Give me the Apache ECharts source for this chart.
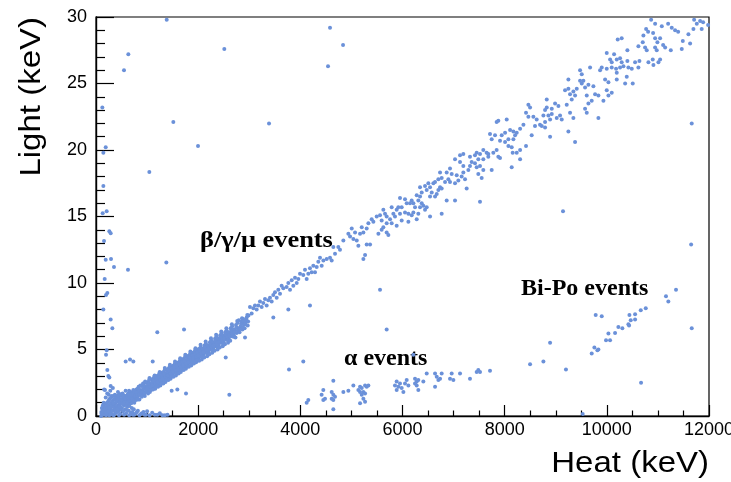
<!DOCTYPE html>
<html><head><meta charset="utf-8">
<script src="https://cdn.jsdelivr.net/npm/echarts@6/dist/echarts.min.js"></script>
<style>html,body{margin:0;padding:0;background:#fff}#c{width:731px;height:482px}</style>
</head><body><div id="c"></div>
<script>
const xTicks = [0, 2000, 4000, 6000, 8000, 10000, 12000];
const yTicks = [0, 5, 10, 15, 20, 25, 30];
const xTitle = 'Heat (keV)';
const yTitle = 'Light (keV)';
const labelBeta = 'β/γ/μ events';
const labelAlpha = 'α events';
const labelBiPo = 'Bi-Po events';

// points near the origin
const lowBlob = [[120,0.1],[150,0.3],[170,0.6],[180,0.15],[200,0.9],[210,0.4],[230,0.2],[240,1.1],[250,0.7],[260,0.05],[270,1.3],[280,0.5],[290,0.25],[300,0.95],[310,1.5],[320,0.1],[330,0.7],[340,1.2],[350,0.4],[360,0.85],[370,1.6],[380,0.2],[390,1.0],[400,0.55],[410,1.35],[420,0.3],[430,1.8],[440,0.8],[450,1.1],[460,0.45],[470,1.5],[480,0.15],[490,0.95],[500,1.25],[510,0.6],[520,1.7],[530,0.35],[540,1.05],[550,0.8],[560,1.4],[570,0.5],[580,1.9],[590,0.2],[600,1.15],[610,0.7],[620,1.6],[640,0.4],[660,0.95],[680,0.25],[700,0.6],[720,0.1],[150,1.0],[130,0.5],[190,1.4],[220,1.7],[160,2.0],[110,0.2],[135,0.8],[280,1.9],[330,2.1],[250,1.6],[200,0.05],[100,0.0],[350,0.05],[450,0.05],[550,0.1],[650,0.05],[750,0.1],[850,0.05],[950,0.1],[1050,0.05],[800,0.3],[900,0.2],[1000,0.35],[1150,0.1],[1300,0.05],[1400,0.1],
[105,0.3],[115,0.6],[125,0.15],[140,0.4],[145,0.7],[155,0.1],[165,0.45],[175,0.9],[185,0.3],[195,0.65],[205,0.2],[215,1.0],[225,0.55],[235,0.8],[245,0.35],[255,1.2],[265,0.6],[275,0.9],[285,0.15],[295,1.4],[305,0.7],[315,1.1],[325,0.4],[335,0.95],[345,1.5],[355,0.65],[365,1.25],[375,0.45],[385,1.45],[395,0.75],[405,1.1],[415,0.6],[425,1.55],[435,0.35],[445,1.3],[455,0.75],[465,1.65],[475,1.0],[485,0.55],[495,1.5],[505,0.95],[525,1.2],[545,1.55],[565,1.05],[585,1.5],[605,0.45],[625,0.85],[645,1.25],[690,0.95],[710,0.3],[740,0.5],[780,0.2],[820,0.4],[880,0.15],[930,0.3],[980,0.1],[1100,0.25],[1200,0.1],[1250,0.2],[1350,0.05]];

// dense beta/gamma/muon band, 600 - 3000 keV
const bandDense = [[600,0.9],[605,1.2],[615,1.5],[625,1.05],[630,1.7],[640,1.35],[650,0.75],[655,1.55],[665,1.15],[680,1.8],
[700,1.1],[705,1.45],[715,1.75],[720,1.3],[730,1.95],[745,1.55],[750,1.0],[760,1.7],[775,1.4],[790,2.0],
[800,1.35],[810,1.7],[815,2.05],[825,1.5],[835,2.2],[845,1.85],[850,1.25],[865,1.95],[875,1.6],[890,2.25],
[900,1.6],[905,1.95],[915,2.3],[925,1.75],[935,2.45],[945,2.1],[955,1.5],[965,2.2],[975,1.85],[990,2.5],
[1000,1.85],[1010,2.2],[1020,2.55],[1030,2.0],[1040,2.7],[1050,2.35],[1055,1.8],[1070,2.45],[1080,2.1],[1095,2.75],
[1100,2.1],[1110,2.45],[1120,2.8],[1125,2.25],[1140,2.95],[1150,2.6],[1160,2.05],[1170,2.7],[1180,2.35],[1195,3.0],
[1200,2.35],[1210,2.7],[1220,3.05],[1230,2.5],[1240,3.2],[1250,2.85],[1260,2.3],[1270,2.95],[1285,2.6],[1295,3.25],
[1300,2.6],[1310,2.95],[1320,3.3],[1330,2.75],[1345,3.45],[1350,3.1],[1360,2.55],[1375,3.2],[1385,2.85],[1395,3.5],
[1400,2.85],[1410,3.2],[1420,3.55],[1435,3.0],[1440,3.7],[1455,3.35],[1460,2.8],[1470,3.45],[1485,3.1],[1495,3.75],
[1500,3.1],[1510,3.45],[1520,3.8],[1535,3.25],[1545,3.95],[1550,3.6],[1565,3.05],[1575,3.7],[1580,3.35],[1595,4.0],
[1600,3.35],[1610,3.7],[1625,4.05],[1630,3.5],[1645,4.2],[1650,3.85],[1660,3.3],[1675,3.95],[1685,3.6],[1695,4.25],
[1700,3.6],[1710,3.95],[1720,4.3],[1730,3.75],[1745,4.45],[1755,4.1],[1760,3.55],[1770,4.2],[1785,3.85],[1795,4.5],
[1800,3.85],[1815,4.2],[1820,4.55],[1830,4.0],[1845,4.7],[1850,4.35],[1865,3.8],[1870,4.45],[1885,4.1],[1895,4.75],
[1900,4.1],[1910,4.45],[1925,4.8],[1930,4.25],[1940,4.95],[1955,4.6],[1960,4.05],[1975,4.7],[1985,4.35],[1995,5.0],
[2000,4.3],[2015,4.7],[2025,5.05],[2035,4.5],[2050,5.2],[2060,4.85],[2070,4.25],[2085,4.95],[2095,4.6],
[2100,4.55],[2115,4.95],[2125,5.3],[2140,4.75],[2150,5.45],[2165,5.1],[2175,4.5],[2185,5.2],[2195,4.85],
[2200,4.8],[2215,5.2],[2230,5.55],[2240,5.0],[2255,5.7],[2265,5.35],[2275,4.75],[2290,5.45],
[2300,5.05],[2315,5.45],[2330,5.8],[2340,5.25],[2355,5.95],[2365,5.6],[2380,5.0],[2390,5.7],
[2400,5.3],[2415,5.7],[2430,6.05],[2440,5.5],[2455,6.2],[2465,5.85],[2480,5.25],[2490,5.95],
[2500,5.55],[2515,5.95],[2530,6.3],[2540,5.75],[2555,6.45],[2570,6.1],[2585,5.5],[2595,6.2],
[2600,5.8],[2620,6.2],[2635,6.6],[2650,6.0],[2665,6.75],[2680,6.35],[2695,6.5],
[2700,6.05],[2720,6.45],[2740,6.85],[2755,6.25],[2770,7.0],[2785,6.6],[2795,7.2],
[2810,6.3],[2830,6.75],[2850,7.1],[2865,6.5],[2880,7.3],[2895,6.9],
[2910,6.6],[2930,7.05],[2950,7.4],[2970,6.8],[2985,7.55]];

// more points of the dense band
const bandDense2 = [[420,0.5],[455,1.0],[470,0.7],[495,1.2],[515,0.9],[535,1.45],[560,1.0],[575,1.3],[590,0.85],
[608,1.0],[622,1.35],[647,1.9],[662,1.45],[688,1.25],[694,1.6],
[708,1.25],[727,1.65],[739,1.15],[752,1.85],[768,1.5],[783,1.2],[796,1.75],
[806,1.55],[822,1.25],[838,1.95],[853,1.65],[869,2.3],[884,1.8],[897,1.45],
[908,1.8],[921,2.45],[933,2.05],[948,1.7],[962,2.6],[979,2.0],[994,2.25],
[1006,2.05],[1019,1.7],[1034,2.45],[1047,2.85],[1063,2.2],[1077,1.95],[1092,2.5],
[1104,2.3],[1117,2.0],[1133,2.65],[1148,3.05],[1163,2.45],[1176,2.2],[1191,2.8],
[1203,2.55],[1216,2.2],[1232,2.9],[1247,3.3],[1262,2.7],[1276,2.45],[1291,3.05],
[1304,2.8],[1318,2.45],[1333,3.15],[1347,3.6],[1363,2.95],[1377,2.7],[1392,3.3],
[1404,3.05],[1417,2.7],[1432,3.4],[1448,3.85],[1462,3.2],[1476,2.95],[1491,3.55],
[1503,3.3],[1517,2.95],[1531,3.65],[1547,4.1],[1561,3.45],[1577,3.2],[1591,3.8],
[1604,3.55],[1618,3.2],[1633,3.9],[1648,4.35],[1662,3.7],[1677,3.45],[1692,4.05],
[1703,3.8],[1717,3.45],[1733,4.15],[1748,4.6],[1763,3.95],[1777,3.7],[1791,4.3],
[1804,4.05],[1818,3.7],[1834,4.4],[1848,4.85],[1862,4.2],[1877,3.95],[1892,4.55],
[1903,4.3],[1917,3.95],[1933,4.65],[1947,5.1],[1963,4.45],[1977,4.2],[1991,4.8],
[2004,4.55],[2019,4.15],[2033,4.9],[2047,5.35],[2063,4.7],[2078,4.45],[2092,5.05],
[2104,4.8],[2119,4.4],[2133,5.15],[2147,5.6],[2163,4.95],[2178,4.7],[2192,5.3],
[2204,5.05],[2221,4.65],[2236,5.4],[2251,5.85],[2268,5.2],[2283,4.95],[2296,5.55],
[2306,5.3],[2322,4.9],[2337,5.65],[2352,6.1],[2368,5.45],[2384,5.2],[2397,5.8],
[2408,5.55],[2423,5.15],[2437,5.9],[2452,6.35],[2470,5.7],[2485,5.45],[2498,6.05],
[2508,5.8],[2524,5.4],[2538,6.15],[2552,6.6],[2566,5.95],[2580,5.7],[2598,6.3],
[2610,6.05],[2628,5.65],[2645,6.4],[2660,6.9],[2675,6.2],[2690,5.95],
[2712,6.3],[2730,5.9],[2748,6.65],[2765,7.15],[2780,6.45],
[2818,6.55],[2840,6.95],[2858,7.35],[2875,6.7],[2890,7.1],
[2920,6.9],[2940,7.25],[2962,7.6],[2978,7.1]];

// band 3000 - 5600 keV
const bandMid = [[3014,8.2],[3047,7.7],[3080,8.1],[3112,8.3],[3145,8.0],[3177,8.3],[3210,8.6],[3243,8.2],[3275,8.5],[3308,8.8],[3341,8.3],[3373,8.7],[3406,8.9],[3439,8.6],[3471,9.1],[3504,9.3],[3537,8.9],[3569,9.5],[3602,9.2],[3634,9.8],[3667,9.6],[3732,9.7],[3765,10.0],[3798,9.5],[3831,10.2],[3863,9.8],[3896,10.4],[3929,10.0],[3961,10.3],[3994,10.7],[4058,10.6],[4091,11.0],[4124,10.3],[4156,10.7],[4189,11.1],[4222,10.8],[4254,11.3],[4287,10.8],[4320,11.2],[4352,11.6],[4385,11.9],[4418,11.3],[4451,11.7],[4516,11.8],[4581,11.9],[4614,11.7],[4646,12.7],[4679,12.2],[4744,12.7],[4776,12.5],[4842,13.2],[4940,13.7],[4973,13.5],[5006,14.1],[5038,13.3],[5071,13.8],[5104,13.2],[5136,12.8],[5169,13.7],[5202,14.2],[5234,13.8],[5267,12.1],[5234,11.8],[5299,14.1],[5299,12.9],[5332,14.5],[5365,12.9],[5397,14.8],[5430,14.6],[5495,15.0],[5528,13.7],[5560,15.1]];

// band 5600 - 8700 keV
const bandUpper = [[8464,23.4],[8497,23.2],[8418,22.8],[8464,22.5],[8562,22.5],[8627,22.3],[8594,21.8],[8692,21.9],[8529,21.1],[8367,21.9],[8302,21.6],[8236,21.3],[8204,21.1],[8073,20.8],[8171,20.8],[8040,22.3],[7876,22.2],[7843,22.1],[8008,21.3],[8106,21.5],[8171,21.4],[8008,20.6],[8073,20.3],[8138,20.2],[8236,19.8],[8157,19.8],[8302,20.0],[8418,20.3],[8138,18.7],[8302,19.3],[7713,21.2],[7811,21.1],[7746,20.8],[7909,20.7],[7942,21.1],[7843,20.0],[7876,19.5],[7909,19.4],[7778,19.8],[7680,19.7],[7582,20.0],[7647,19.8],[7517,19.7],[7452,19.8],[7419,19.6],[7484,19.3],[7582,19.3],[7680,19.5],[7321,19.5],[7354,19.1],[7419,19.0],[7321,18.8],[7452,18.7],[7517,18.8],[7582,18.5],[7484,18.2],[7550,17.9],[7746,18.5],[7289,18.5],[7191,19.7],[7126,19.6],[7028,19.3],[7126,19.1],[7191,18.8],[7191,18.3],[7158,18.0],[7061,18.1],[7093,17.7],[7028,17.5],[7224,17.8],[7256,17.1],[6930,18.6],[6865,18.3],[6963,18.2],[6898,17.8],[6735,18.3],[6767,17.9],[6833,17.6],[6930,17.6],[6702,17.8],[6637,17.6],[6604,17.5],[6735,17.2],[6702,17.0],[6767,17.1],[6506,17.5],[6539,17.2],[6441,17.3],[6343,17.2],[6376,16.8],[6474,17.0],[6572,16.8],[6539,16.5],[6637,16.5],[6670,16.7],[6865,16.2],[7028,16.2],[7517,16.1],[6343,16.5],[6278,16.6],[6310,16.2],[6376,16.0],[6180,16.2],[6213,16.0],[6147,16.0],[6245,15.7],[6343,15.7],[6408,15.8],[6474,15.7],[6441,15.5],[6539,15.0],[6049,16.3],[5951,16.4],[6082,16.0],[5984,15.7],[5918,15.7],[5886,15.5],[5951,15.2],[6049,15.3],[6115,15.2],[6213,15.3],[6180,15.1],[6310,15.2],[6278,14.8],[5821,15.2],[5853,15.0],[5788,15.7],[5625,15.5],[5658,15.2],[5690,15.0],[5756,14.8],[5592,14.7],[5690,14.5],[5788,14.5],[5886,14.3],[5984,14.7],[5625,14.2],[5592,14.0],[5690,13.8],[5723,13.6],[6115,14.6],[6767,15.2]];

// band 8700 - 12000 keV
const bandTop = [[10867,29.8],[10945,29.5],[11076,29.3],[11200,29.5],[11271,29.2],[11336,29.0],[11396,28.9],[11709,29.8],[11826,29.7],[11885,29.6],[11983,29.4],[11761,29.5],[11857,29.1],[11695,29.1],[11597,28.7],[10769,29.1],[10808,28.9],[10906,28.8],[11043,28.4],[10945,28.4],[10990,28.1],[11102,27.9],[11141,27.7],[11252,27.5],[11487,28.2],[11467,27.6],[11630,28.0],[10716,28.6],[10703,28.1],[10749,27.7],[10618,27.8],[10781,27.5],[10945,27.7],[10977,27.5],[10213,28.3],[10291,28.4],[10402,27.5],[9998,27.3],[10142,27.2],[10064,26.8],[10194,26.8],[10259,26.9],[10291,26.6],[10402,26.7],[10096,26.6],[9900,26.2],[9998,26.1],[10096,26.2],[10181,26.1],[10259,26.2],[10325,26.3],[10422,26.2],[10488,26.1],[10553,26.6],[10638,26.7],[10618,26.2],[10814,26.6],[10899,26.8],[10912,26.4],[11010,26.6],[11043,26.8],[9672,26.2],[9868,26.0],[10194,25.3],[10390,25.5],[10358,25.0],[10507,25.0],[9966,25.3],[10031,25.1],[9998,24.5],[10096,24.3],[10031,24.1],[9933,23.7],[10194,25.8],[9476,26.0],[9509,25.7],[9247,25.3],[9476,25.2],[9541,25.2],[9509,25.0],[9639,24.9],[9737,24.8],[9574,24.7],[9411,24.6],[9182,24.5],[9247,24.6],[9345,24.4],[9280,24.2],[9378,24.1],[9607,24.1],[9770,24.2],[9835,24.1],[9704,23.7],[9639,23.5],[9574,23.1],[9607,22.8],[9313,23.8],[9215,23.4],[8987,23.5],[9052,23.3],[8824,23.8],[8824,23.2],[8791,23.0],[8922,23.1],[8758,22.6],[8856,22.6],[8922,22.7],[9019,22.4],[9084,22.6],[9117,22.3],[8889,22.3],[8791,22.1],[8726,21.8],[8791,21.7],[9280,22.8],[9345,22.4],[9247,21.4],[9835,22.4],[8889,21.0],[9378,20.6]];

// alpha events
const alphaPts = [[4156,1.2],[4124,1.0],[4450,1.95],[4417,1.6],[4483,1.3],[4450,1.2],[4614,1.8],[4646,1.6],[4679,1.45],[4614,1.3],[4646,1.2],[4646,2.65],[4646,0.5],[4842,1.8],[4940,1.9],[5038,2.3],[5169,2.2],[5202,2.1],[5267,2.3],[5299,2.2],[5332,2.3],[5169,1.8],[5234,1.8],[5202,1.6],[5267,1.7],[5234,1.3],[5169,0.95],[5267,1.07],[5136,1.95],[5886,2.6],[5853,2.3],[5918,2.2],[5951,2.45],[5984,2.1],[6049,2.45],[6082,2.7],[5886,1.95],[6017,1.8],[6115,2.3],[6245,2.8],[6278,2.6],[6310,2.7],[6245,2.45],[6278,2.3],[6310,1.95],[6408,2.6],[6474,3.2],[6637,3.2],[6670,2.95],[6702,2.7],[6637,2.2],[6767,3.2],[6735,2.8],[6963,3.2],[6930,2.8],[6996,2.7],[7126,3.2],[7321,2.8],[7452,3.3],[7484,3.45],[7517,3.3],[7713,3.4],[8497,3.9],[8758,4.1]];

// Bi-Po events
const biPoPts = [[11158,9.0],[11204,8.6],[11354,9.5],[9782,7.6],[9900,7.5],[9704,4.7],[9756,5.15],[9815,4.95],[9835,5.0],[9984,5.7],[10063,5.7],[10031,6.2],[10161,6.25],[10226,6.7],[10304,6.6],[10422,6.9],[10435,6.8],[10468,7.2],[10553,7.25],[10442,7.6],[10553,7.65],[10664,7.95],[10762,8.1]];

// scattered events
const strays = [[1384,29.8],[2512,27.6],[633,27.2],[548,26.0],[124,23.2],[1514,22.1],[1997,20.3],[190,20.2],[144,19.8],[4581,29.2],[4542,26.3],[4836,27.9],[3387,22.0],[1044,18.35],[144,17.3],[131,15.25],[209,15.4],[261,13.9],[287,13.75],[157,13.15],[190,11.75],[294,11.8],[352,11.2],[626,11.0],[1377,11.55],[170,10.3],[222,9.25],[196,9.1],[144,8.0],[287,7.25],[320,6.6],[209,4.95],[196,4.6],[222,3.45],[241,3.0],[261,2.9],[176,1.95],[287,2.25],[581,4.1],[666,4.25],[731,4.1],[1110,4.1],[1200,6.3],[1723,6.5],[1481,1.9],[1592,2.0],[1762,1.7],[2539,4.4],[2610,1.6],[2917,5.9],[3778,3.5],[3765,8.0],[3471,7.4],[4189,8.3],[5560,9.5],[5690,6.5],[4058,4.1],[6213,4.6],[8889,5.5],[9142,15.4],[11650,12.9],[11662,22.0],[11662,6.6],[9200,3.5],[10670,2.5],[9527,0.15]];

const allPoints = [].concat(lowBlob, bandDense, bandDense2, bandMid, bandUpper, bandTop, alphaPts, biPoPts, strays);

const chart = echarts.init(document.getElementById('c'), null, {renderer: 'canvas'});
const axisFont = {fontFamily: 'Liberation Sans', fontSize: 18, color: '#000'};
chart.setOption({
  animation: false,
  backgroundColor: '#fff',
  grid: {left: 96, right: 22, top: 17, bottom: 66, outerBoundsMode: 'none', containLabel: false, show: true, borderColor: '#000', borderWidth: 1.2, backgroundColor: 'transparent'},
  xAxis: {
    type: 'value', min: xTicks[0], max: xTicks[xTicks.length - 1], interval: 2000,
    axisLine: {show: true, lineStyle: {color: '#000', width: 1.4}},
    axisTick: {show: true, inside: true, length: 11, lineStyle: {color: '#000', width: 1.2}},
    minorTick: {show: true, splitNumber: 4, length: 5.5, lineStyle: {color: '#000', width: 1.2}},
    splitLine: {show: false},
    axisLabel: Object.assign({margin: 5, showMaxLabel: true, showMinLabel: true, formatter: v => String(v)}, axisFont)
  },
  yAxis: {
    type: 'value', min: yTicks[0], max: yTicks[yTicks.length - 1], interval: 5,
    axisLine: {show: true, lineStyle: {color: '#000', width: 1.4}},
    axisTick: {show: true, inside: true, length: 18, lineStyle: {color: '#000', width: 1.2}},
    minorTick: {show: true, splitNumber: 5, length: 9, lineStyle: {color: '#000', width: 1.2}},
    splitLine: {show: false},
    axisLabel: Object.assign({margin: 9, formatter: v => String(v)}, axisFont)
  },
  series: [{
    type: 'scatter',
    data: allPoints,
    symbol: 'circle',
    symbolSize: 4,
    itemStyle: {color: '#6b91d9', opacity: 1},
    silent: true
  }],
  graphic: [
    {type: 'text', x: 709, y: 479, scaleX: 1.1, style: {text: xTitle, fontFamily: 'Liberation Sans', fontSize: 30, fill: '#000', align: 'right', verticalAlign: 'bottom'}},
    {type: 'text', x: 47, y: 17, rotation: Math.PI / 2, scaleX: 1.1, style: {text: yTitle, fontFamily: 'Liberation Sans', fontSize: 30, fill: '#000', align: 'right', verticalAlign: 'bottom'}},
    {type: 'text', x: 200, y: 241, scaleX: 1.1, style: {text: labelBeta, fontFamily: 'Liberation Serif', fontWeight: 'bold', fontSize: 24, fill: '#000', align: 'left', verticalAlign: 'middle'}},
    {type: 'text', x: 521, y: 289, style: {text: labelBiPo, fontFamily: 'Liberation Serif', fontWeight: 'bold', fontSize: 24, fill: '#000', align: 'left', verticalAlign: 'middle'}},
    {type: 'text', x: 344, y: 359, style: {text: labelAlpha, fontFamily: 'Liberation Serif', fontWeight: 'bold', fontSize: 24, fill: '#000', align: 'left', verticalAlign: 'middle'}}
  ]
});
</script></body></html>
